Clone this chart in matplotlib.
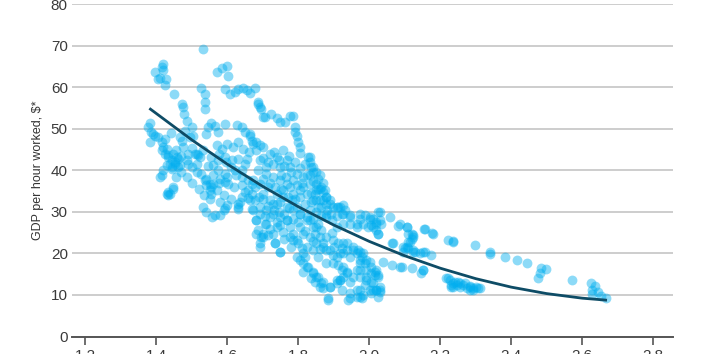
import matplotlib
matplotlib.use("Agg")
import matplotlib.pyplot as plt
import numpy as np

# ---------------- data ----------------
y_ticks = [0, 10, 20, 30, 40, 50, 60, 70, 80]
x_ticks = [1.2, 1.4, 1.6, 1.8, 2.0, 2.2, 2.4, 2.6, 2.8]
x_tick_labels = ["1.2", "1.4", "1.6", "1.8", "2.0", "2.2", "2.4", "2.6", "2.8"]
y_label = "GDP per hour worked, $*"

upper_left = [
    (1.532, 69.3),
    (1.419, 65.7), (1.415, 64.9), (1.396, 63.8), (1.419, 64.1), (1.41, 62.2), (1.405, 62.1), (1.426, 61.9), (1.424, 60.5),
    (1.57, 63.8), (1.585, 64.7), (1.598, 65.1), (1.602, 62.7),
    (1.45, 58.3),
    (1.525, 59.8), (1.537, 58.5), (1.537, 56.4), (1.537, 54.7),
    (1.471, 56.1), (1.474, 55.2), (1.478, 53.7), (1.485, 52.0),
    (1.593, 59.7), (1.607, 58.5), (1.621, 58.8), (1.63, 59.5), (1.645, 59.8), (1.654, 59.4), (1.663, 58.7),
    (1.677, 59.8), (1.687, 56.4), (1.692, 55.2), (1.701, 52.8),
    (1.382, 51.3), (1.377, 50.4), (1.386, 49.2), (1.396, 48.4), (1.382, 46.8),
    (1.555, 51.3), (1.546, 50.4), (1.565, 50.8), (1.541, 48.8), (1.574, 49.2), (1.593, 51.2),
    (1.626, 51.0), (1.64, 50.4), (1.649, 49.2), (1.663, 48.4), (1.682, 46.8), (1.692, 46.0),
    (1.499, 50.4), (1.504, 48.4),
]

upper_chain = [
    (1.687, 56.1), (1.696, 54.9), (1.706, 52.8), (1.724, 53.7), (1.739, 52.5), (1.748, 51.6), (1.762, 51.6),
    (1.776, 53.0), (1.784, 53.2), (1.79, 50.4), (1.79, 49.2), (1.795, 48.4), (1.799, 46.8), (1.804, 45.6),
    (1.806, 44.2), (1.668, 47.2),
    (1.828, 43.2), (1.832, 42.0), (1.837, 40.8), (1.842, 39.6), (1.832, 38.8), (1.851, 36.8), (1.861, 35.6),
    (1.875, 35.2), (1.879, 33.6), (1.889, 32.8), (1.908, 31.2),
]

left_group = [
    (1.391, 48.8), (1.405, 48.0), (1.415, 46.8), (1.419, 45.6), (1.429, 45.2), (1.424, 44.0), (1.433, 43.2),
    (1.443, 42.4), (1.438, 41.6), (1.452, 42.0), (1.457, 43.2), (1.466, 41.2), (1.443, 40.4), (1.419, 40.0),
    (1.415, 38.8), (1.41, 38.4), (1.447, 36.0), (1.438, 34.4), (1.433, 34.0), (1.461, 40.8), (1.476, 45.6),
    (1.471, 47.2), (1.466, 48.0), (1.48, 49.6), (1.494, 48.0), (1.49, 44.0), (1.513, 44.0), (1.523, 43.2),
    (1.527, 39.2), (1.541, 38.0), (1.551, 36.8), (1.555, 36.0), (1.555, 34.4),
    (1.415, 44.8), (1.433, 43.6), (1.447, 44.0), (1.461, 42.8), (1.452, 41.6), (1.443, 40.8), (1.429, 41.2),
    (1.49, 41.6), (1.499, 40.8), (1.508, 44.0), (1.518, 43.6), (1.513, 39.6), (1.537, 37.6), (1.541, 36.4),
    (1.56, 36.8), (1.551, 35.2), (1.433, 34.8), (1.447, 35.6), (1.429, 34.4), (1.565, 29.2), (1.579, 29.2),
    (1.591, 30.4), (1.557, 28.8),
]

main_cluster = [
    (1.555, 43.2), (1.574, 42.4), (1.593, 43.2), (1.612, 42.4), (1.63, 42.8), (1.649, 41.6), (1.621, 40.0),
    (1.593, 39.2), (1.574, 40.0), (1.64, 38.4), (1.659, 37.6), (1.668, 36.8), (1.677, 36.0), (1.659, 35.2),
    (1.64, 33.6), (1.63, 32.0), (1.663, 32.8), (1.668, 30.8), (1.692, 29.6), (1.682, 28.0), (1.687, 25.6),
    (1.696, 24.0), (1.692, 22.4), (1.593, 37.2), (1.602, 36.8),
    (1.57, 46.0), (1.585, 45.2), (1.6, 46.4), (1.615, 45.6), (1.63, 46.8), (1.645, 45.2), (1.66, 44.4),
    (1.575, 44.0), (1.595, 42.0), (1.61, 40.8), (1.625, 38.8), (1.64, 40.0), (1.655, 42.8), (1.56, 41.2),
    (1.58, 38.0), (1.6, 38.4), (1.62, 36.0), (1.64, 36.4), (1.65, 34.8), (1.57, 35.2), (1.59, 34.0),
    (1.61, 33.2), (1.63, 30.8), (1.6, 31.6), (1.58, 32.4), (1.55, 33.2), (1.53, 31.2), (1.54, 30.0),
    (1.63, 31.2), (1.635, 32.4), (1.658, 33.3), (1.593, 30.9),
    (1.663, 48.8), (1.673, 46.4), (1.682, 44.8), (1.701, 45.6), (1.72, 44.0), (1.739, 43.2), (1.757, 44.8),
    (1.767, 42.4), (1.748, 40.8), (1.729, 41.6), (1.71, 40.8), (1.692, 42.4), (1.776, 40.8), (1.795, 39.2),
    (1.814, 38.4), (1.785, 37.6), (1.767, 36.8), (1.748, 37.6), (1.729, 38.4), (1.71, 39.2), (1.814, 36.0),
    (1.832, 36.8), (1.851, 35.2), (1.87, 32.8), (1.842, 32.8), (1.823, 34.4), (1.804, 35.2), (1.785, 34.4),
    (1.776, 36.0), (1.757, 35.2),
    (1.673, 37.6), (1.692, 36.8), (1.715, 36.0), (1.739, 34.4), (1.757, 33.6), (1.781, 32.8), (1.795, 31.2),
    (1.804, 29.6), (1.823, 28.8), (1.832, 28.0), (1.842, 26.4), (1.856, 27.2), (1.865, 25.6), (1.879, 24.0),
    (1.898, 23.2), (1.912, 22.4), (1.922, 21.2), (1.936, 22.4), (1.954, 21.6), (1.968, 20.8), (1.978, 19.2),
    (1.987, 17.6), (1.973, 16.0), (1.992, 16.0), (2.006, 16.8), (1.973, 18.4), (1.945, 19.2), (1.964, 20.0),
    (1.926, 20.0), (1.908, 19.2), (1.889, 20.8), (1.87, 21.6), (1.851, 22.4), (1.832, 24.0), (1.814, 24.8),
    (1.804, 26.4), (1.767, 28.0), (1.748, 28.8), (1.729, 29.6), (1.71, 30.4), (1.692, 31.2), (1.677, 32.8),
    (1.668, 34.4), (1.72, 32.8), (1.739, 32.0), (1.701, 34.4), (1.682, 28.0), (1.71, 27.2), (1.739, 26.4),
    (1.729, 24.8), (1.673, 30.4),
    (1.832, 43.2), (1.842, 40.8), (1.851, 39.6), (1.861, 38.8), (1.865, 36.0), (1.856, 35.6), (1.846, 34.4),
    (1.87, 34.8), (1.879, 33.6), (1.917, 31.2), (1.926, 31.6), (1.931, 30.4), (1.945, 29.2), (1.922, 29.6),
    (1.879, 29.6), (1.865, 31.2), (1.889, 32.0), (1.851, 32.8), (1.837, 32.4), (1.856, 31.2), (1.832, 30.4),
]

dense_fill = [
    (1.70, 43.0), (1.715, 42.0), (1.73, 44.5), (1.745, 42.5), (1.76, 41.0), (1.775, 43.5), (1.79, 42.0),
    (1.805, 40.5), (1.82, 41.5), (1.72, 37.0), (1.735, 36.0), (1.75, 39.0), (1.765, 38.5), (1.78, 39.5),
    (1.795, 36.5), (1.81, 37.0), (1.825, 39.0), (1.84, 37.5), (1.855, 38.0), (1.87, 37.0), (1.70, 33.0),
    (1.715, 31.5), (1.73, 30.5), (1.745, 30.0), (1.76, 29.5), (1.775, 31.0), (1.79, 33.0), (1.805, 33.5),
    (1.82, 32.0), (1.835, 34.5), (1.85, 30.0), (1.865, 29.0), (1.88, 30.5), (1.895, 28.0), (1.91, 29.0),
    (1.75, 35.5), (1.77, 33.5), (1.685, 40.0), (1.70, 38.0), (1.69, 33.5), (1.705, 29.0), (1.72, 26.0),
    (1.76, 23.5), (1.78, 21.5), (1.80, 27.5), (1.82, 25.5), (1.84, 23.0), (1.86, 21.0), (1.895, 25.0),
    (1.90, 21.5), (1.455, 45.0), (1.47, 43.5), (1.485, 42.5), (1.50, 45.5), (1.515, 41.5), (1.53, 45.0),
    (1.545, 41.0), (1.56, 39.0), (1.575, 37.0), (1.485, 38.5), (1.50, 37.0), (1.52, 35.5), (1.535, 34.0),
    (1.425, 47.5), (1.44, 49.0), (1.455, 38.5), (1.47, 39.5),
]

lower_middle = [
    (1.729, 32.0), (1.748, 32.4), (1.767, 31.2), (1.785, 30.4), (1.72, 28.8), (1.706, 27.2), (1.701, 24.8),
    (1.739, 27.6), (1.748, 26.8), (1.767, 28.0), (1.785, 28.4), (1.804, 29.6), (1.823, 28.0), (1.842, 28.4),
    (1.851, 26.4), (1.846, 24.8), (1.861, 24.0), (1.87, 22.4), (1.879, 20.8), (1.898, 19.6), (1.917, 20.0),
    (1.926, 22.4), (1.936, 20.8), (1.954, 20.8), (1.973, 20.4), (1.983, 20.0), (1.992, 18.4), (1.973, 17.6),
    (1.964, 16.0), (1.973, 14.4), (1.992, 13.6), (2.011, 12.8), (2.02, 11.2), (2.03, 12.0), (2.001, 11.2),
    (1.973, 11.2), (1.945, 9.2), (1.964, 9.6), (1.978, 9.2), (1.884, 9.2), (1.861, 12.0), (1.87, 13.2),
    (1.851, 14.4), (1.842, 15.6), (1.823, 16.8), (1.814, 15.6), (1.804, 18.4), (1.795, 19.2), (1.814, 20.0),
    (1.734, 22.4), (1.748, 20.4), (1.785, 23.2), (1.776, 24.0), (1.799, 22.4), (1.823, 21.6), (1.842, 20.8),
    (1.856, 19.2), (1.879, 17.6), (1.898, 17.6), (1.912, 17.2), (1.926, 16.8), (1.936, 15.6), (1.917, 13.6),
    (1.908, 12.8), (1.889, 12.0), (1.922, 11.2), (1.912, 31.2), (1.926, 29.6), (1.945, 28.8), (1.973, 29.6),
    (2.001, 28.8), (2.02, 27.2), (2.025, 24.8), (2.011, 26.4), (1.983, 27.2), (1.964, 26.4), (1.945, 27.2),
    (1.926, 27.2), (1.908, 26.4), (1.879, 28.8), (1.893, 29.6), (1.898, 31.2), (1.861, 32.8), (1.879, 32.0),
    (1.692, 21.6), (1.734, 22.4), (1.748, 20.4), (1.682, 24.8), (1.701, 24.0), (1.715, 24.4), (1.757, 25.2),
    (1.776, 26.4), (1.785, 24.8), (1.795, 23.2), (1.809, 21.2), (1.818, 19.2), (1.814, 17.6), (1.828, 16.8),
    (1.842, 15.2), (1.856, 14.4), (1.865, 12.8), (1.87, 11.6), (1.889, 12.0), (1.884, 8.8), (1.846, 13.2),
    (1.837, 14.0), (1.908, 13.6), (1.917, 13.6), (1.926, 14.4), (1.936, 15.2), (1.922, 16.0), (1.945, 13.2),
    (1.954, 14.4), (1.945, 10.4), (1.964, 11.2), (1.973, 9.6), (1.94, 8.8), (1.987, 12.4), (1.992, 14.4),
    (2.006, 15.2), (2.015, 15.6), (2.025, 14.8), (2.02, 11.2), (2.03, 10.8), (2.006, 10.4), (1.983, 10.0),
]

right_group = [
    (2.03, 30.0), (2.011, 28.4), (2.02, 27.6), (2.034, 27.2), (2.006, 26.8), (2.025, 24.8), (2.058, 28.8),
    (2.086, 27.2), (2.081, 26.6), (2.105, 26.4), (2.119, 24.8), (2.123, 24.0), (2.114, 22.8), (2.105, 21.6),
    (2.095, 20.4), (2.123, 20.4), (2.142, 20.0), (2.156, 20.4), (2.175, 19.6), (2.156, 26.0), (2.18, 24.8),
    (2.222, 23.2), (2.236, 22.8), (2.297, 22.0), (2.339, 20.4), (2.065, 22.4), (2.039, 18.0), (2.063, 17.2),
    (2.086, 16.8), (2.119, 16.4), (2.147, 15.2), (2.152, 16.0), (2.001, 18.0), (2.02, 16.0), (2.015, 14.8),
    (2.025, 14.4), (2.006, 13.2), (2.011, 11.2), (2.03, 11.2), (2.025, 9.6),
    (1.973, 28.4), (1.987, 29.2), (2.001, 28.4), (2.025, 30.0), (2.03, 28.0), (2.02, 25.6), (1.997, 26.4),
    (1.964, 27.2), (2.067, 22.4), (2.095, 21.6), (2.11, 21.2), (2.128, 20.4), (2.152, 20.4), (2.152, 16.0),
    (2.105, 26.3), (2.11, 24.8), (2.123, 24.4), (2.121, 23.4), (2.11, 22.8), (2.1, 21.2), (2.123, 20.8),
    (2.091, 16.8), (2.154, 25.8), (2.178, 24.9),
    (2.236, 23.0), (2.341, 19.8), (2.382, 19.2), (2.415, 18.4), (2.445, 17.6), (2.485, 16.6), (2.499, 16.2),
    (2.48, 15.3), (2.476, 14.2), (2.57, 13.7),
]

bottom_strip = [
    (2.222, 14.0), (2.236, 12.8), (2.25, 13.2), (2.264, 12.4), (2.283, 12.0), (2.302, 12.0), (2.231, 12.0),
    (2.255, 12.0), (2.274, 11.6), (2.292, 11.2), (2.311, 11.6), (2.217, 14.0), (2.227, 13.6), (2.231, 12.4),
    (2.241, 13.2), (2.255, 12.9), (2.269, 12.8), (2.283, 12.1), (2.292, 11.8), (2.306, 11.6), (2.283, 11.3),
    (2.246, 12.4), (2.236, 12.0),
    (2.626, 12.8), (2.635, 12.1), (2.629, 11.3), (2.644, 10.8), (2.629, 10.2), (2.652, 9.7), (2.668, 9.2),
]

trend_x = [1.38, 1.5, 1.6, 1.7, 1.8, 1.9, 2.0, 2.1, 2.2, 2.3, 2.4, 2.5, 2.6, 2.67]
trend_y = [54.95, 47.33, 41.49, 36.13, 31.25, 26.84, 22.9, 19.44, 16.45, 13.93, 11.89, 10.33, 9.23, 8.74]

# ---------------- drawing ----------------
plt.rcParams["font.family"] = ["Liberation Sans Narrow", "Liberation Sans", "DejaVu Sans"]

groups = [upper_left, upper_chain, left_group, main_cluster, dense_fill, lower_middle, right_group, bottom_strip]
pts = np.array([p for g in groups for p in g])

fig = plt.figure(figsize=(7.08, 3.54), dpi=100)
ax = fig.add_axes([72 / 708, 1 - 336.5 / 354, (673 - 72) / 708, (336.5 - 4.3) / 354])
ax.set_xlim(1.162, 2.856)
ax.set_ylim(0, 80)

ax.scatter(pts[:, 0], pts[:, 1], s=50, color="#00AEEF", alpha=0.45, linewidths=0, zorder=3)
ax.plot(trend_x, trend_y, color="#0E4C66", lw=2.0, zorder=4, solid_capstyle="butt")

ax.set_yticks(y_ticks)
ax.set_xticks(x_ticks)
ax.set_xticklabels(x_tick_labels)
ax.yaxis.grid(True, color="#c9c9c9", lw=1.3)
ax.xaxis.grid(False)
ax.set_axisbelow(True)

for s in ["top", "right", "left"]:
    ax.spines[s].set_visible(False)
ax.spines["bottom"].set_color("#555555")
ax.spines["bottom"].set_linewidth(1.4)
ax.spines["bottom"].set_zorder(5)

ax.tick_params(axis="y", length=0, pad=3, labelsize=11, labelcolor="#3a3a3a")
ax.tick_params(axis="x", direction="out", length=6, width=1.2, color="#555555",
               pad=3, labelsize=11, labelcolor="#3a3a3a")

ax.set_ylabel(y_label, fontsize=9, color="#333333")
ax.yaxis.set_label_coords(-0.047, 0.5)

fig.savefig("out.png", dpi=100)
